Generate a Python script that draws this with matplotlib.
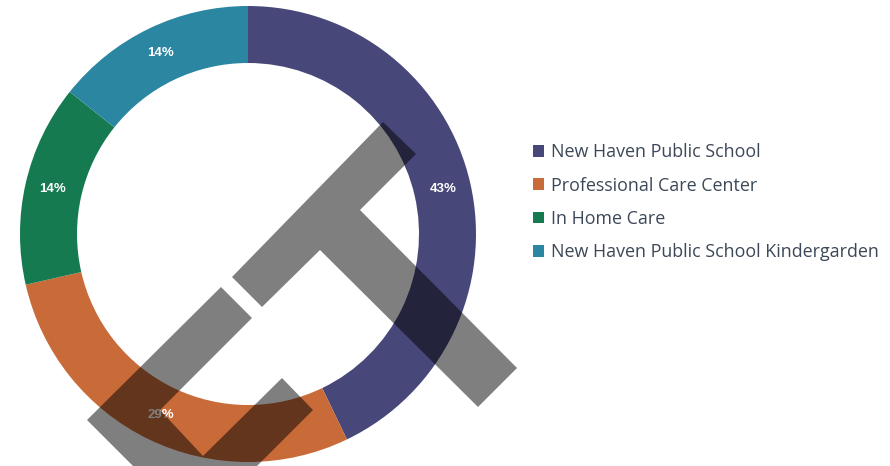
import matplotlib
matplotlib.use("Agg")
import matplotlib.pyplot as plt
from matplotlib.patches import Polygon

# data: counts per care type (share of respondents)
labels = ["New Haven Public School", "Professional Care Center",
          "In Home Care", "New Haven Public School Kindergarden"]
counts = [3, 2, 1, 1]
colors = ["#47477a", "#c86b39", "#167a50", "#2b86a2"]

W, H = 890, 466
fig = plt.figure(figsize=(W / 100, H / 100), dpi=100)
fig.patch.set_facecolor("white")

# donut axes: center (248, 234) px, radius 228 px
cx, cy, r = 248, 234, 228
ax = fig.add_axes([(cx - r) / W, (H - cy - r) / H, 2 * r / W, 2 * r / H])
wedges, texts, autotexts = ax.pie(
    counts, colors=colors, startangle=90, counterclock=False, radius=1,
    autopct="%1.0f%%", pctdistance=0.88,
    wedgeprops=dict(width=0.25, edgecolor="none"),
    textprops=dict(color="white", fontsize=9.5, fontweight="bold",
                   family="Liberation Sans"))
ax.set_xlim(-1, 1)
ax.set_ylim(-1, 1)
ax.set_aspect("equal")
ax.axis("off")

leg = fig.legend(wedges, labels, loc="upper left",
                 bbox_to_anchor=(526 / W, 1 - 136 / H),
                 frameon=False, handlelength=0.62, handleheight=0.62,
                 handletextpad=0.35, labelspacing=0.86, borderaxespad=0,
                 prop=dict(family="Open Sans", size=12.9))
for t in leg.get_texts():
    t.set_color("#3c4858")

# semi-transparent watermark over the chart (pixel coords, y from top)
marks = [
    [(383, 122), (416, 154), (360, 210), (517, 368), (478, 407),
     (320, 250), (262, 307), (232, 277)],
    [(221, 287), (252, 318), (160, 410), (203, 456), (282, 378),
     (313, 410), (253, 470), (137, 470), (87, 420)],
]
for pts in marks:
    fig.patches.append(Polygon([(x / W, 1 - y / H) for x, y in pts],
                               closed=True, transform=fig.transFigure,
                               facecolor="black", alpha=0.5,
                               edgecolor="none", figure=fig))

fig.savefig("out.png", dpi=100)
